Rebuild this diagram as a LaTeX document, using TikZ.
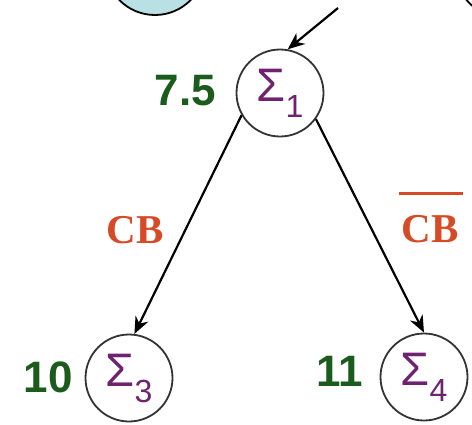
\documentclass[tikz,border=0pt]{standalone}
\usepackage{fontspec}
\setmainfont{Liberation Sans}
\newfontfamily\serifb{Liberation Serif}
\usetikzlibrary{arrows.meta}
\definecolor{numgreen}{HTML}{1B5B1B}
\definecolor{sigpurple}{HTML}{6E2270}
\definecolor{cborange}{HTML}{D64B26}
\definecolor{topblue}{HTML}{B9E0E3}
\newcommand{\sig}[1]{\fontsize{47}{47}\selectfont\char"03A3\raisebox{-16pt}{\fontsize{32}{32}\selectfont #1}}
\begin{document}
\begin{tikzpicture}[x=1pt,y=-1pt,
  state/.style={circle,draw=black!80,line width=1.8pt,minimum size=87pt,inner sep=0pt,text=sigpurple},
  num/.style={text=numgreen,font=\bfseries\fontsize{44}{44}\selectfont,inner sep=0pt,anchor=east},
  cond/.style={text=cborange,font=\serifb\bfseries\fontsize{41}{41}\selectfont,inner sep=0pt},
  edge/.style={line width=2.2pt,-{Stealth[length=17pt,width=14pt]}}]
\useasboundingbox (0,0) rectangle (472,424);
\begin{scope}
\clip (0,0) rectangle (472,424);
\draw[fill=topblue,line width=1.8pt] (155,-35) circle[radius=50pt];
\draw[line width=1.8pt] (505,-32) circle[radius=50pt];
\end{scope}
\node[state] (s1) at (280,93) {\sig{1}};
\node[state] (s3) at (129,378) {\sig{3}};
\node[state] (s4) at (424,377) {\sig{4}};
\node[num] (n1) at (216,91) {7.5};
\node[num] (n3) at (73,377) {10};
\node[num] (n4) at (363,371) {11};
\coordinate (in) at (338,8);
\draw[edge] (in) -- (s1.80);
\draw[edge] (s1.210) -- (s3.83);
\draw[edge] (s1.324) -- (s4.90);
\node[cond] (cb) at (135,230) {CB};
\node[cond] (cbbar) at (430,229) {CB};
\draw[cborange,line width=3pt] ([xshift=-2pt,yshift=22pt]cbbar.north west) -- ([xshift=4pt,yshift=22pt]cbbar.north east);
\end{tikzpicture}
\end{document}
